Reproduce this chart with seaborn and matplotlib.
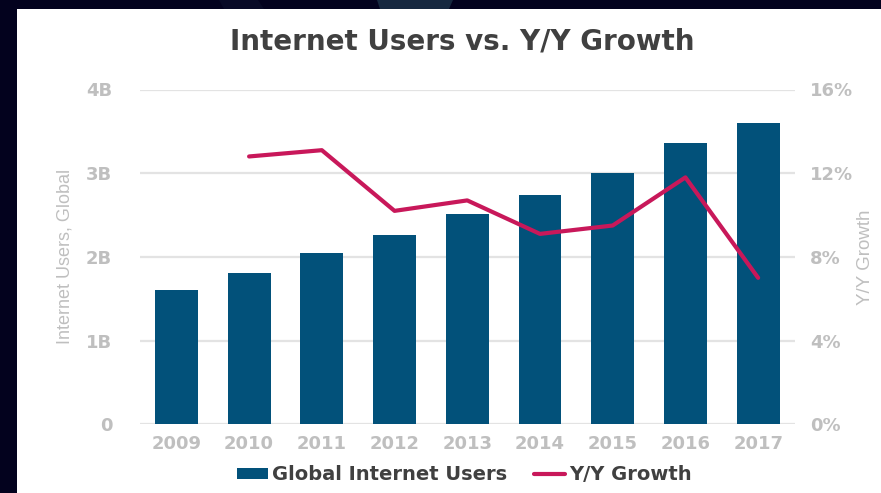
import matplotlib
matplotlib.use("Agg")
import matplotlib.pyplot as plt
from matplotlib.patches import Rectangle, Polygon
from matplotlib.lines import Line2D
import seaborn as sns
import pandas as pd

years = [2009, 2010, 2011, 2012, 2013, 2014, 2015, 2016, 2017]
users_b = [1.61, 1.81, 2.05, 2.26, 2.51, 2.74, 3.00, 3.36, 3.60]
growth_years = [2010, 2011, 2012, 2013, 2014, 2015, 2016, 2017]
growth_pct = [12.8, 13.1, 10.2, 10.7, 9.1, 9.5, 11.8, 7.0]
left_ticks = [0, 1, 2, 3, 4]
left_labels = ["0", "1B", "2B", "3B", "4B"]
right_ticks = [0, 4, 8, 12, 16]
right_labels = ["0%", "4%", "8%", "12%", "16%"]

BAR = "#02517A"
LINE = "#C8185A"
TICK = "#BFBFBF"
DARK = "#404040"
WIDE = ["DejaVu Sans"]

sns.set_theme(style="white")
plt.rcParams["font.family"] = ["Liberation Sans", "DejaVu Sans"]

W, H = 881, 493
fig = plt.figure(figsize=(W / 100, H / 100), dpi=100)
fig.patch.set_facecolor("#03021E")
# white slide panel
fig.add_artist(Rectangle((17 / W, 0), 1 - 17 / W, 1 - 9 / H, transform=fig.transFigure,
                         facecolor="white", edgecolor="none", zorder=0))
fig.add_artist(Polygon([(377 / W, 1), (453 / W, 1), (449 / W, 1 - 9 / H), (380 / W, 1 - 9 / H)],
                       transform=fig.transFigure, facecolor="#16283F", edgecolor="none", zorder=0))
fig.add_artist(Polygon([(219 / W, 1), (258 / W, 1), (264 / W, 1 - 9 / H), (224 / W, 1 - 9 / H)],
                       transform=fig.transFigure, facecolor="#080A26", edgecolor="none", zorder=0))

ax = fig.add_axes([140 / W, (H - 424.3) / H, (794.5 - 140) / W, (424.3 - 89.5) / H])
ax.set_facecolor("none")

df_bar = pd.DataFrame({"year": years, "users": users_b})
sns.barplot(data=df_bar, x="year", y="users", native_scale=True, width=0.59,
            color=BAR, saturation=1, edgecolor="none", ax=ax, zorder=3)

ax.set_xlim(2008.5, 2017.5)
ax.set_ylim(0, 4)
ax.set_yticks(left_ticks)
ax.set_yticklabels(left_labels)
ax.set_xticks(years)
ax.set_xticklabels([str(y) for y in years])
ax.yaxis.grid(True, color="#E3E3E3", linewidth=1.6, zorder=0)
ax.set_axisbelow(True)
for s in ax.spines.values():
    s.set_visible(False)
ax.tick_params(axis="both", length=0, colors=TICK)
ax.tick_params(axis="y", pad=20)
ax.tick_params(axis="x", pad=8)
for lab in ax.get_xticklabels() + ax.get_yticklabels():
    lab.set_fontweight("bold")
    lab.set_family(WIDE)
    lab.set_fontsize(13)
ax.set_xlabel("")
ax.set_ylabel("Internet Users, Global", color=TICK, fontsize=13, labelpad=9)

ax2 = ax.twinx()
df_line = pd.DataFrame({"year": growth_years, "growth": growth_pct})
sns.lineplot(data=df_line, x="year", y="growth", color=LINE, linewidth=3,
             ax=ax2, zorder=4)
ax2.set_ylim(0, 16)
ax2.set_yticks(right_ticks)
ax2.set_yticklabels(right_labels)
for s in ax2.spines.values():
    s.set_visible(False)
ax2.tick_params(axis="y", length=0, colors=TICK, pad=11)
for lab in ax2.get_yticklabels():
    lab.set_fontweight("bold")
    lab.set_family(WIDE)
    lab.set_fontsize(13)
ax2.set_ylabel("Y/Y Growth", color=TICK, fontsize=13.5, labelpad=3)
ax2.set_xlim(2008.5, 2017.5)
ax2.set_xlabel("")

fig.text(462 / W, 1 - 41 / H, "Internet Users vs. Y/Y Growth", ha="center", va="center",
         fontsize=20, fontweight="bold", color=DARK, family=WIDE)

handles = [Rectangle((0, 0), 1, 1, facecolor=BAR, edgecolor="none"),
           Line2D([0], [0], color=LINE, linewidth=3)]
leg = fig.legend(handles, ["Global Internet Users", "Y/Y Growth"], loc="center",
                 bbox_to_anchor=(464 / W, 1 - 475 / H), ncol=2, frameon=False,
                 handlelength=1.6, handleheight=0.45, handletextpad=0.2, columnspacing=1.4,
                 prop={"size": 14, "weight": "bold", "family": WIDE})
for t in leg.get_texts():
    t.set_color(DARK)

fig.savefig("out.png", dpi=100, facecolor=fig.get_facecolor())
